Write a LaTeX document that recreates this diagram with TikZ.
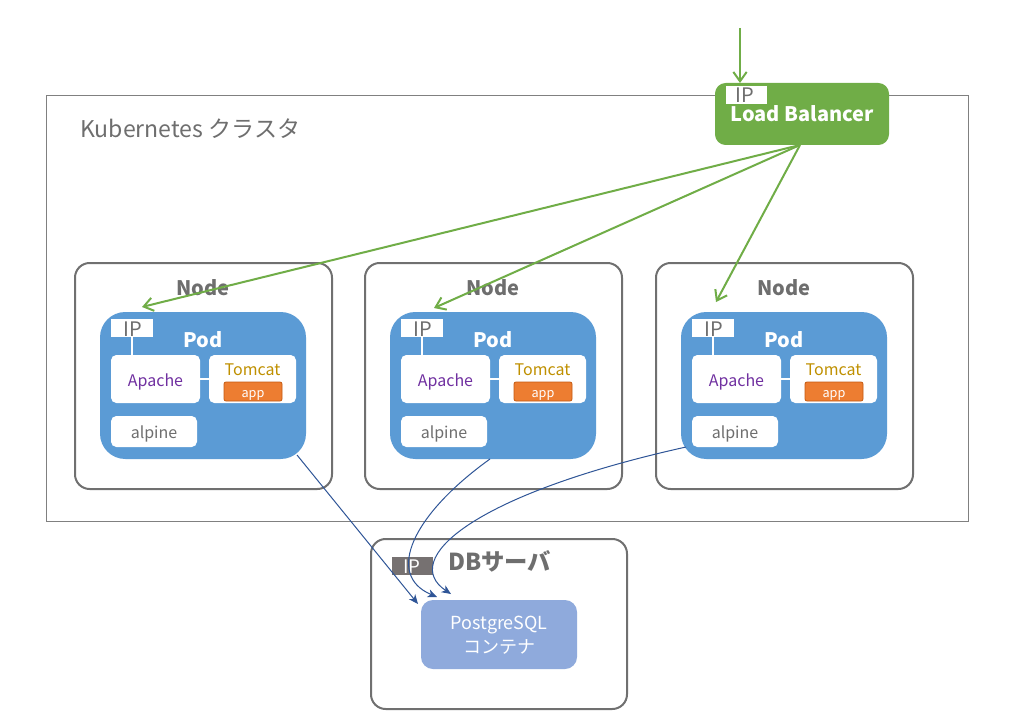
\documentclass[tikz,border=0pt]{standalone}
\usepackage{fontspec}
\setmainfont{Noto Sans CJK JP}
\usetikzlibrary{arrows.meta,fit}
\definecolor{lbgreen}{HTML}{70AD47}
\definecolor{podblue}{HTML}{5B9BD5}
\definecolor{txtgray}{HTML}{6E6E6E}
\definecolor{bordergray}{HTML}{707070}
\definecolor{clustergray}{HTML}{808080}
\definecolor{apachepurple}{HTML}{7030A0}
\definecolor{tomcatgold}{HTML}{BF9000}
\definecolor{apporange}{HTML}{ED7D31}
\definecolor{appborder}{HTML}{C55A11}
\definecolor{pgblue}{HTML}{8FAADC}
\definecolor{arrowblue}{HTML}{2F5597}
\definecolor{dbipgray}{HTML}{767171}
\tikzset{
  base/.style={inner sep=0pt, outer sep=0pt},
  cluster/.style={base, draw=clustergray, line width=0.75pt},
  nodebox/.style={base, draw=bordergray, line width=1.5pt, fill=white, rounded corners=11pt},
  podbox/.style={base, fill=podblue, rounded corners=19pt},
  wbox/.style={base, fill=white, rounded corners=4pt},
  ipbox/.style={base, fill=white},
  dbipbox/.style={base, fill=dbipgray},
  appbox/.style={base, fill=apporange, draw=appborder, line width=0.6pt, rounded corners=1.5pt},
  lbbox/.style={base, fill=lbgreen, rounded corners=8pt},
  pgbox/.style={base, fill=pgblue, rounded corners=9pt},
  boldlbl/.style={inner sep=0pt, font=\fontsize{15}{18}\selectfont\bfseries, text=txtgray},
  iptxt/.style={inner sep=0pt, font=\fontsize{15}{18}\selectfont, text=txtgray},
  smalltxt/.style={inner sep=0pt, font=\fontsize{12}{14}\selectfont},
  apptxt/.style={inner sep=0pt, font=\fontsize{9.5}{11}\selectfont, text=white},
  wline/.style={draw=white, line width=1.8pt},
  garrow/.style={draw=lbgreen, line width=1.5pt, -{Straight Barb[length=7pt,width=10pt]}},
  barrow/.style={draw=arrowblue, line width=0.75pt, -{Stealth[length=7pt,width=6pt,inset=2pt]}},
}
\begin{document}
\begin{tikzpicture}[x=0.75pt,y=-0.75pt]
\useasboundingbox (0,0) rectangle (1020,720);
% cluster
\node[cluster, fit={(46,96) (968,521)}] (cluster) {};
\node[inner sep=0pt, font=\fontsize{17.3}{20}\selectfont, text=txtgray, anchor=base west] (clustertxt) at (80,138) {Kubernetes クラスタ};
% load balancer
\node[lbbox, fit={(715,83) (889,145)}] (lb) {};
\node[ipbox, fit={(726,86) (767,104)}] (lbip) {};
\node[iptxt, anchor=base] (lbiptxt) at (745,103) {IP};
\node[boldlbl, text=white, anchor=base] (lbtxt) at (802,122) {Load Balancer};
\coordinate (lbin) at (740,28);
% nodes and pods
\foreach \i/\dx in {1/0,2/290,3/581}{
  \node[nodebox, fit={(75+\dx,263) (332+\dx,489)}] (node\i) {};
  \node[boldlbl, anchor=base] (nodetxt\i) at (203+\dx,295) {Node};
  \node[podbox, fit={(100+\dx,312) (306+\dx,459)}] (pod\i) {};
  \node[boldlbl, text=white, anchor=base] (podtxt\i) at (203+\dx,347) {Pod};
  \node[ipbox, fit={(111+\dx,319) (153+\dx,337)}] (ip\i) {};
  \node[iptxt, anchor=base] (iptxt\i) at (132.5+\dx,336) {IP};
  \node[wbox, fit={(111+\dx,355) (200+\dx,403)}] (apache\i) {};
  \node[smalltxt, text=apachepurple, anchor=base] (apachetxt\i) at (155.5+\dx,386.5) {Apache};
  \node[wbox, fit={(209+\dx,355) (296+\dx,403)}] (tomcat\i) {};
  \node[smalltxt, text=tomcatgold, anchor=base] (tomcattxt\i) at (252.5+\dx,375.5) {Tomcat};
  \node[appbox, fit={(224+\dx,382) (282+\dx,401)}] (app\i) {};
  \node[apptxt, anchor=base] (apptxt\i) at (253+\dx,397) {app};
  \node[wbox, fit={(111+\dx,416) (197+\dx,447)}] (alpine\i) {};
  \node[smalltxt, text=txtgray, anchor=base] (alpinetxt\i) at (154+\dx,438) {alpine};
  \draw[wline] (ip\i.south) -- (ip\i.south |- apache\i.north);
  \draw[wline] (apache\i.east) -- (tomcat\i.west);
}
% DB server
\node[nodebox, fit={(371,539) (627,709)}] (db) {};
\node[boldlbl, font=\fontsize{17.5}{20}\selectfont\bfseries, anchor=base west] (dbtxt) at (448,570) {DBサーバ};
\node[dbipbox, fit={(392,557) (433,575)}] (dbip) {};
\node[iptxt, font=\fontsize{14}{16}\selectfont, text=white, anchor=base] (dbiptxt) at (412,573.5) {IP};
\node[pgbox, fit={(421,600) (577,669)}] (pg) {};
\node[inner sep=0pt, font=\fontsize{13.5}{16}\selectfont, text=white, anchor=base] (pgtxt1) at (499,629) {PostgreSQL};
\node[inner sep=0pt, font=\fontsize{13.5}{16}\selectfont, text=white, anchor=base] (pgtxt2) at (499,653) {コンテナ};
% green arrows
\draw[garrow] (lbin) -- (lbin |- lb.north);
\coordinate (lbout) at (800,145);
\coordinate (g1) at (142,307);
\coordinate (g2) at (434,308);
\coordinate (g3) at (716,302);
\draw[garrow] (lbout) -- (g1);
\draw[garrow] (lbout) -- (g2);
\draw[garrow] (lbout) -- (g3);
% blue arrows
\coordinate (b1s) at (297,455);
\coordinate (b1e) at (418,604);
\coordinate (b2s) at (490,459);
\coordinate (b2e) at (437,597);
\coordinate (b3s) at (686,447);
\coordinate (b3e) at (451,594);
\draw[barrow] (b1s) -- (b1e);
\draw[barrow] (b2s) .. controls (412,515) and (385,575) .. (b2e);
\draw[barrow] (b3s) .. controls (470,495) and (400,560) .. (b3e);
\end{tikzpicture}
\end{document}
